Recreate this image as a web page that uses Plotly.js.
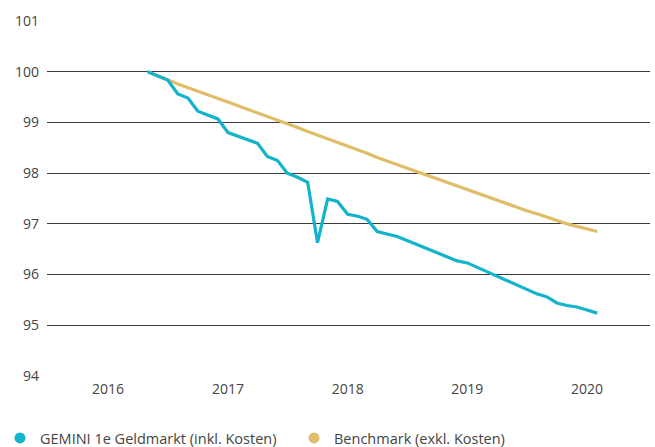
<!DOCTYPE html>
<html>
<head>
<meta charset="utf-8">
<script src="https://cdn.plot.ly/plotly-3.0.1.min.js"></script>
<style>html,body{margin:0;padding:0;background:#fff;}#chart{width:655px;height:447px;}</style>
</head>
<body>
<div id="chart"></div>
<script>
const dates = [
 '2016-05-01','2016-06-01','2016-07-01','2016-08-01','2016-09-01','2016-10-01','2016-11-01','2016-12-01',
 '2017-01-01','2017-02-01','2017-03-01','2017-04-01','2017-05-01','2017-06-01','2017-07-01','2017-08-01',
 '2017-09-01','2017-10-01','2017-11-01','2017-12-01','2018-01-01','2018-02-01','2018-03-01','2018-04-01',
 '2018-05-01','2018-06-01','2018-07-01','2018-08-01','2018-09-01','2018-10-01','2018-11-01','2018-12-01',
 '2019-01-01','2019-02-01','2019-03-01','2019-04-01','2019-05-01','2019-06-01','2019-07-01','2019-08-01',
 '2019-09-01','2019-10-01','2019-11-01','2019-12-01','2020-01-01','2020-02-01'
];
const gemini = [
 100.00, 99.91, 99.835, 99.56, 99.48, 99.22, 99.14, 99.07,
 98.80, 98.73, 98.66, 98.59, 98.33, 98.25, 98.00, 97.92,
 97.82, 96.63, 97.49, 97.44, 97.19, 97.15, 97.09, 96.85,
 96.80, 96.75, 96.67, 96.59, 96.52, 96.44, 96.36, 96.27,
 96.23, 96.14, 96.06, 95.97, 95.88, 95.79, 95.70, 95.62,
 95.56, 95.44, 95.39, 95.36, 95.30, 95.24
];
const benchmark = [
 100.00, 99.91, 99.84, 99.76, 99.69, 99.62, 99.55, 99.47,
 99.40, 99.33, 99.26, 99.19, 99.11, 99.04, 98.97, 98.90,
 98.82, 98.75, 98.68, 98.60, 98.53, 98.46, 98.39, 98.31,
 98.24, 98.17, 98.10, 98.03, 97.96, 97.89, 97.81, 97.75,
 97.68, 97.61, 97.54, 97.47, 97.40, 97.33, 97.26, 97.20,
 97.13, 97.06, 97.00, 96.95, 96.90, 96.85
];
const names = ['GEMINI 1e Geldmarkt (inkl. Kosten)', 'Benchmark (exkl. Kosten)'];
const yTicks = [94, 95, 96, 97, 98, 99, 100, 101];
const xTicks = ['2016-01-01','2017-01-01','2018-01-01','2019-01-01','2020-01-01'];
const xTickText = ['2016','2017','2018','2019','2020'];

const cyan = '#13b3cb';
const gold = '#e0bd68';

const traces = [
  {x: dates, y: benchmark, type: 'scatter', mode: 'lines', line: {color: gold, width: 3.2}, showlegend: false, hoverinfo: 'skip'},
  {x: dates, y: gemini, type: 'scatter', mode: 'lines', line: {color: cyan, width: 3.2}, showlegend: false, hoverinfo: 'skip'},
  {x: [null], y: [null], type: 'scatter', mode: 'markers', name: names[0], marker: {color: cyan, size: 11}},
  {x: [null], y: [null], type: 'scatter', mode: 'markers', name: names[1], marker: {color: gold, size: 11}}
];

const family = '"Open Sans", Lato, sans-serif';
const tickFont = {family: family, size: 14, color: '#444'};
const legendFont = {family: family, size: 14.5, color: '#444'};

const layout = {
  width: 655, height: 447,
  margin: {l: 47, r: 5, t: 21, b: 71},
  paper_bgcolor: '#fff', plot_bgcolor: '#fff',
  font: tickFont,
  showlegend: true,
  legend: {
    orientation: 'h', xref: 'container', yref: 'container',
    x: 0, xanchor: 'left', y: 0.02, yanchor: 'middle',
    font: legendFont,
    entrywidth: 249, entrywidthmode: 'pixels', itemclick: false
  },
  xaxis: {
    type: 'date',
    range: ['2015-06-29', '2020-07-11'],
    tickvals: xTicks, ticktext: xTickText,
    showgrid: false, zeroline: false, showline: false,
    ticks: '', ticklabelstandoff: 3,
    tickfont: tickFont, fixedrange: true
  },
  yaxis: {
    range: [94, 101],
    tickvals: yTicks,
    showgrid: true, gridcolor: '#3a3a3a', gridwidth: 1,
    zeroline: false, showline: false,
    ticks: '', ticklabelstandoff: 7,
    tickfont: tickFont, fixedrange: true
  }
};

Plotly.newPlot('chart', traces, layout, {staticPlot: true, displayModeBar: false});
</script>
</body>
</html>
